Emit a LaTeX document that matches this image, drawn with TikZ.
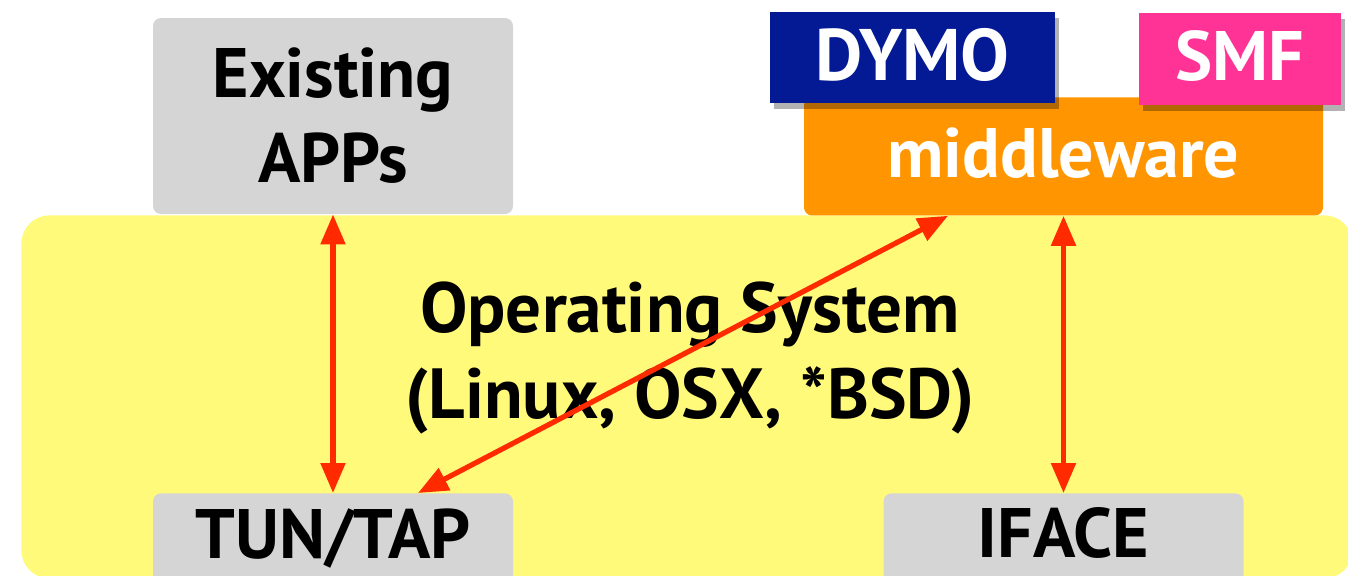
\documentclass[tikz,border=0pt]{standalone}
\usepackage{fontspec}
\setmainfont{PT Sans}
\usetikzlibrary{arrows.meta,shadows}
\definecolor{osyellow}{RGB}{255,250,122}
\definecolor{boxgray}{RGB}{213,213,213}
\definecolor{mworange}{RGB}{255,149,0}
\definecolor{dymoblue}{RGB}{4,25,148}
\definecolor{smfpink}{RGB}{255,51,150}
\definecolor{arrowred}{RGB}{255,42,0}
\begin{document}
\begin{tikzpicture}[x=0.5pt,y=-0.5pt,
  lbl/.style={font=\fontsize{35}{42.5}\selectfont\bfseries},
  graybox/.style={lbl, fill=boxgray, rounded corners=4pt, inner sep=0pt, minimum width=180pt},
  tagbox/.style={lbl, text=white, inner sep=0pt,
    drop shadow={shadow xshift=2pt, shadow yshift=-3pt, fill=black, opacity=0.3}},
  conn/.style={draw=arrowred, line width=2.6pt,
    {Triangle[length=15pt,width=12pt]}-{Triangle[length=15pt,width=12pt]}}]
\useasboundingbox (0,0) rectangle (1348,575);
\clip (0,0) rectangle (1348,575);
\node[fill=osyellow, rounded corners=14pt, inner sep=0pt, anchor=north west,
  minimum width=665.5pt, minimum height=181.5pt] (os) at (21,215) {};
\node[graybox, align=center, minimum height=98pt] (apps) at (333,116) {Existing\\APPs};
\node[graybox, anchor=north, text height=32.5pt, text depth=25pt] (tun) at (333,493) {TUN/TAP};
\node[graybox, anchor=north, text height=32pt, text depth=25pt] (iface) at (1063.5,493) {IFACE};
\node[lbl, fill=mworange, text=white, rounded corners=4pt, inner sep=0pt, anchor=north,
  minimum width=259.5pt, text height=40pt, text depth=19pt] (mw) at (1063.5,97) {middleware};
\node[tagbox, fill=dymoblue, anchor=north, minimum width=142.5pt,
  text height=34pt, text depth=11.5pt, font=\fontsize{36.5}{42.5}\selectfont\bfseries] (dymo) at (912.5,12) {DYMO};
\node[tagbox, fill=smfpink, anchor=north, minimum width=101pt,
  text height=33.5pt, text depth=12.5pt] (smf) at (1240,13) {SMF};
\node[lbl, align=center, font=\fontsize{35.5}{43}\selectfont\bfseries] (ostext) at (690,358)
  {Operating System\\(Linux, OSX, *BSD)};
\draw[conn] (apps.south) -- (tun.north);
\draw[conn] (mw.south) -- (iface.north);
\draw[conn] ([xshift=42.5pt]tun.north) -- ([xshift=-57.75pt]mw.south);
\end{tikzpicture}
\end{document}
